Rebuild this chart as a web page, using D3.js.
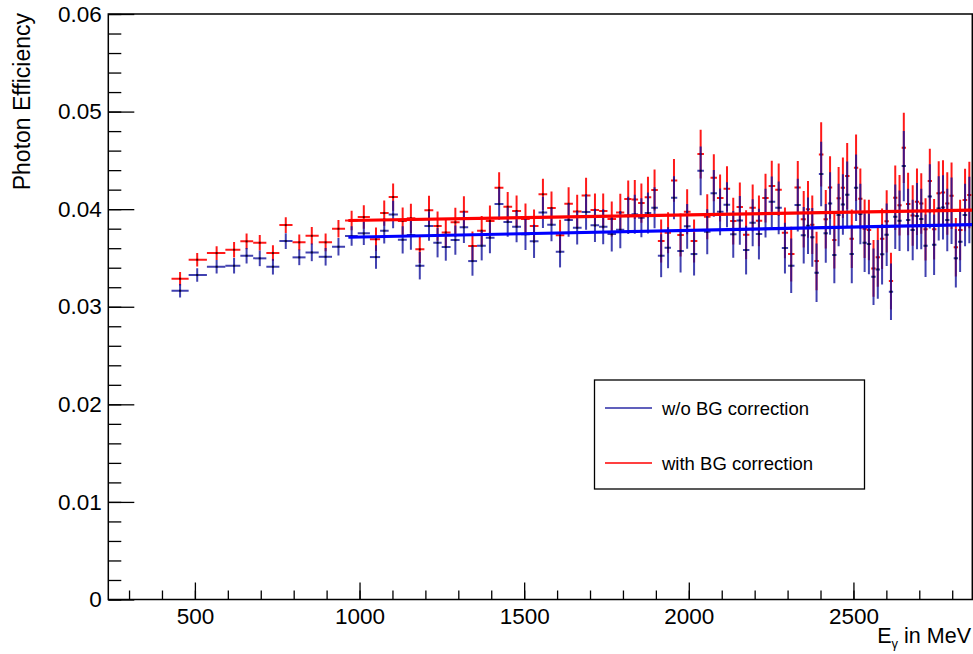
<!DOCTYPE html>
<meta charset="utf-8">
<style>
  body { margin: 0; background: #fff; }
  svg { font-family: "Liberation Sans", Arial, Helvetica, sans-serif; }
</style>
<body>
<script src="https://d3js.org/d3.v7.min.js"></script>
<script>
// photon energy, bin centres in MeV
var energy = [
  455, 507, 566, 619, 657, 697, 737, 776, 817, 855, 897, 936, 976, 1013, 1050, 1075, 1102,
  1131, 1156, 1183, 1211, 1237, 1262, 1291, 1317, 1343, 1371, 1396, 1424, 1450, 1477, 1504,
  1530, 1557, 1583, 1609, 1635, 1661, 1688, 1715, 1740, 1766, 1792, 1816,
  1836, 1856, 1876, 1896, 1916, 1937, 1955, 1975, 1995, 2016, 2036, 2056, 2076, 2095, 2116,
  2135, 2155, 2174, 2194, 2213, 2233, 2252, 2273, 2292, 2311, 2331,
  2349, 2362, 2375, 2388, 2402, 2416, 2429, 2442, 2455, 2468, 2481, 2495, 2508, 2521, 2534,
  2547, 2561, 2574, 2587, 2601, 2614, 2627, 2640, 2653, 2666, 2680, 2693, 2706, 2719, 2732,
  2745, 2759, 2772, 2785, 2798, 2811, 2824, 2839, 2852
];

// efficiency without background correction (blue)
var effNoBG = [
  0.03164, 0.03325, 0.03410, 0.03420, 0.03523, 0.03496, 0.03410, 0.03673, 0.03506, 0.03557,
  0.03512, 0.03615, 0.03724, 0.03752, 0.03509, 0.03779, 0.03945,
  0.03686, 0.03735, 0.03420, 0.03827, 0.03656, 0.03612, 0.03683, 0.03814, 0.03468, 0.03625,
  0.03707, 0.04052, 0.03868, 0.03820, 0.03742, 0.03670, 0.03967, 0.03840, 0.03563, 0.03888,
  0.03809, 0.03970, 0.03834, 0.03820, 0.03745, 0.03789, 0.03936,
  0.03947, 0.03912, 0.03960, 0.04014, 0.03523, 0.03605, 0.04117, 0.03571, 0.03824, 0.03540,
  0.04393, 0.03768, 0.04162, 0.03973, 0.04045, 0.03742, 0.03885, 0.03581, 0.03861, 0.03745,
  0.03960, 0.04076, 0.04014, 0.03601, 0.03420, 0.04042,
  0.03732, 0.03830, 0.03711, 0.03348, 0.04360, 0.03752, 0.04059, 0.03530, 0.03940, 0.04049,
  0.04148, 0.03540, 0.04219, 0.03950, 0.03656, 0.03642, 0.03307, 0.03383, 0.03537, 0.03738,
  0.03154, 0.03922, 0.03881, 0.04442, 0.03888, 0.03786, 0.03929, 0.03899, 0.03625, 0.04131,
  0.03635, 0.04008, 0.04018, 0.03888, 0.03984, 0.03496, 0.03666, 0.03940, 0.03991
];

// efficiency with background correction (red)
var effBG = [
  0.03287, 0.03482, 0.03550, 0.03584, 0.03670, 0.03656, 0.03550, 0.03837, 0.03660, 0.03727,
  0.03660, 0.03799, 0.03885, 0.03919, 0.03691, 0.03960, 0.04124,
  0.03878, 0.03906, 0.03588, 0.03988, 0.03827, 0.03762, 0.03865, 0.03973, 0.03622, 0.03779,
  0.03878, 0.04219, 0.04025, 0.03981, 0.03899, 0.03827, 0.04152, 0.04011, 0.03732, 0.04055,
  0.03977, 0.04141, 0.03991, 0.03981, 0.03899, 0.03967, 0.04103,
  0.04100, 0.04062, 0.04121, 0.04196, 0.03673, 0.03758, 0.04295, 0.03735, 0.03973, 0.03673,
  0.04565, 0.03922, 0.04322, 0.04114, 0.04209, 0.03878, 0.04022, 0.03738, 0.04014, 0.03881,
  0.04114, 0.04237, 0.04199, 0.03758, 0.03540, 0.04223,
  0.03896, 0.03998, 0.03840, 0.03468, 0.04561, 0.03896, 0.04223, 0.03683, 0.04111, 0.04219,
  0.04339, 0.03697, 0.04424, 0.04107, 0.03799, 0.03786, 0.03393, 0.03506, 0.03697, 0.03875,
  0.03263, 0.04117, 0.04039, 0.04629, 0.04052, 0.03936, 0.04076, 0.04059, 0.03793, 0.04288,
  0.03793, 0.04162, 0.04172, 0.04059, 0.04137, 0.03609, 0.03786, 0.04093, 0.04145
];

// statistical error (same size read for both)
var errEff = [
  0.0007, 0.0007, 0.0007, 0.0008, 0.0008, 0.0008, 0.0008, 0.0008, 0.0008, 0.0009, 0.0009, 0.0009, 0.0010,
  0.0012, 0.0012, 0.0013, 0.0014,
  0.0014, 0.0015, 0.0014, 0.0015, 0.0015, 0.0014, 0.0015, 0.0016, 0.0015, 0.0015, 0.0016, 0.0016,
  0.0015, 0.0016, 0.0016, 0.0017, 0.0016, 0.0017, 0.0016, 0.0017, 0.0017, 0.0018, 0.0017, 0.0018,
  0.0018, 0.0019, 0.0019,
  0.0020, 0.0020, 0.0021, 0.0021, 0.0022, 0.0021, 0.0022, 0.0022, 0.0023, 0.0022, 0.0025, 0.0023,
  0.0024, 0.0024, 0.0023, 0.0024, 0.0025, 0.0025, 0.0024, 0.0026, 0.0025, 0.0026, 0.0027, 0.0026,
  0.0028, 0.0027,
  0.0029, 0.0029, 0.0030, 0.0030, 0.0033, 0.0030, 0.0032, 0.0029, 0.0032, 0.0031, 0.0034, 0.0030,
  0.0034, 0.0031, 0.0030, 0.0031, 0.0029, 0.0030, 0.0031, 0.0032, 0.0029, 0.0033, 0.0031, 0.0036,
  0.0032, 0.0031, 0.0034, 0.0031, 0.0032, 0.0033, 0.0031, 0.0033, 0.0033, 0.0032, 0.0034, 0.0030,
  0.0031, 0.0032, 0.0034
];

// straight line fits, from / to
var fitRange = [966, 2861];
var fitNoBG = [0.03712, 0.03842];
var fitBG = [0.03884, 0.03991];

var xTicks = [500, 1000, 1500, 2000, 2500];
var yTicks = [0, 0.01, 0.02, 0.03, 0.04, 0.05, 0.06];
var legendLabels = ["w/o BG correction", "with BG correction"];

var width = 973, height = 654;
var frame = {x0: 108.3, x1: 972.3, y0: 14, y1: 599.5};

var blue = "#12129c", red = "#ff0000";

var svg = d3.select("body").append("svg")
  .attr("width", width)
  .attr("height", height);

var x = d3.scaleLinear().domain([237, 2861]).range([frame.x0, frame.x1]);
var y = d3.scaleLinear().domain([0, 0.06]).range([frame.y1, frame.y0]);

svg.append("clipPath").attr("id", "plot")
  .append("rect")
  .attr("x", frame.x0).attr("y", frame.y0)
  .attr("width", frame.x1 - frame.x0).attr("height", frame.y1 - frame.y0);

// y axis: major + minor ticks pointing inside
var yMinor = d3.range(0, 0.0601, 0.002);
svg.append("g")
  .attr("transform", "translate(" + frame.x0 + ",0)")
  .call(d3.axisLeft(y).tickValues(yMinor).tickSizeInner(-13).tickSizeOuter(0).tickFormat(""));
svg.append("g")
  .attr("transform", "translate(" + frame.x0 + ",0)")
  .call(d3.axisLeft(y).tickValues(yTicks).tickSizeInner(-26).tickSizeOuter(0).tickPadding(6.5)
    .tickFormat(function(d) { return d === 0 ? "0" : d3.format(".2f")(d); }));

// x axis
var xMinor = d3.range(300, 2900, 100);
svg.append("g")
  .attr("transform", "translate(0," + frame.y1 + ")")
  .call(d3.axisBottom(x).tickValues(xMinor).tickSizeInner(-9).tickSizeOuter(0).tickFormat(""));
svg.append("g")
  .attr("transform", "translate(0," + frame.y1 + ")")
  .call(d3.axisBottom(x).tickValues(xTicks).tickSizeInner(-17).tickSizeOuter(0).tickPadding(9)
    .tickFormat(d3.format("d")));

svg.selectAll(".domain").remove();
svg.selectAll(".tick line").attr("stroke", "#000").attr("stroke-width", 1.3);
svg.selectAll(".tick text")
  .attr("fill", "#000")
  .style("font-size", "22.5px")
  .style("font-family", "'Liberation Sans', Arial, sans-serif");

// frame
svg.append("rect")
  .attr("x", frame.x0).attr("y", frame.y0)
  .attr("width", frame.x1 - frame.x0).attr("height", frame.y1 - frame.y0)
  .attr("fill", "none")
  .attr("stroke", "#000")
  .attr("stroke-width", 1.5);

// bin edges from neighbouring centres
function binEdges(i) {
  var n = energy.length;
  var lo = i > 0 ? (energy[i - 1] + energy[i]) / 2 : energy[i] - (energy[i + 1] - energy[i]) / 2;
  var hi = i < n - 1 ? (energy[i] + energy[i + 1]) / 2 : energy[i] + (energy[i] - energy[i - 1]) / 2;
  return [lo, hi];
}

var plot = svg.append("g").attr("clip-path", "url(#plot)");

function drawSeries(values, color, opacity) {
  var g = plot.append("g")
    .attr("stroke", color)
    .attr("stroke-width", 2)
    .attr("stroke-opacity", opacity);
  var idx = d3.range(energy.length);
  g.selectAll("line.h").data(idx).enter().append("line")
    .attr("class", "h")
    .attr("x1", function(i) { return x(binEdges(i)[0]); })
    .attr("x2", function(i) { return x(binEdges(i)[1]); })
    .attr("y1", function(i) { return y(values[i]); })
    .attr("y2", function(i) { return y(values[i]); });
  g.selectAll("line.v").data(idx).enter().append("line")
    .attr("class", "v")
    .attr("x1", function(i) { return x(energy[i]); })
    .attr("x2", function(i) { return x(energy[i]); })
    .attr("y1", function(i) { return y(values[i] - errEff[i]); })
    .attr("y2", function(i) { return y(values[i] + errEff[i]); });
  // small black markers at the centre
  plot.append("g").selectAll("rect").data(idx).enter().append("rect")
    .attr("x", function(i) { return x(energy[i]) - 1; })
    .attr("y", function(i) { return y(values[i]) - 1; })
    .attr("width", 2).attr("height", 2)
    .attr("fill", "#000")
    .attr("opacity", 0.7);
}

drawSeries(effBG, red, 0.9);
drawSeries(effNoBG, blue, 0.8);

// fits
plot.append("line")
  .attr("x1", x(fitRange[0])).attr("x2", x(fitRange[1]))
  .attr("y1", y(fitBG[0])).attr("y2", y(fitBG[1]))
  .attr("stroke", red).attr("stroke-width", 3.2);
plot.append("line")
  .attr("x1", x(fitRange[0])).attr("x2", x(fitRange[1]))
  .attr("y1", y(fitNoBG[0])).attr("y2", y(fitNoBG[1]))
  .attr("stroke", "#0000ff").attr("stroke-width", 3.2);

// axis titles
svg.append("text")
  .attr("transform", "translate(30,13) rotate(-90)")
  .attr("text-anchor", "end")
  .style("font-size", "23px")
  .text("Photon Efficiency");

var xt = svg.append("text")
  .attr("x", 971).attr("y", 643)
  .attr("text-anchor", "end")
  .style("font-size", "21.5px");
xt.append("tspan").text("E");
xt.append("tspan").attr("dy", 5).style("font-size", "13px").text("γ");
xt.append("tspan").attr("dy", -5).text(" in MeV");

// legend
var legend = svg.append("g");
legend.append("rect")
  .attr("x", 594.5).attr("y", 380)
  .attr("width", 270).attr("height", 109)
  .attr("fill", "#fff")
  .attr("stroke", "#000")
  .attr("stroke-width", 1.3);
var legendColors = ["#2b2ba6", red];
var legendY = [408, 463];
legendLabels.forEach(function(label, i) {
  legend.append("line")
    .attr("x1", 605).attr("x2", 652)
    .attr("y1", legendY[i]).attr("y2", legendY[i])
    .attr("stroke", legendColors[i]).attr("stroke-width", 1.5);
  legend.append("text")
    .attr("x", 662).attr("y", legendY[i] + 7)
    .style("font-size", "18.5px")
    .text(label);
});
</script>
</body>
